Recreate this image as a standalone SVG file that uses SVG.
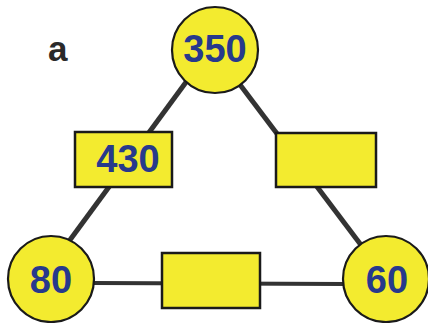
<svg xmlns="http://www.w3.org/2000/svg" width="428" height="323" viewBox="0 0 428 323">
<style>
.c{fill:#f3eb2f;stroke:#1a1a1a;stroke-width:2.2}
.r{fill:#f3eb2f;stroke:#1a1a1a;stroke-width:2.5}
.t{font-family:"Liberation Sans",Arial,sans-serif;font-size:38px;font-weight:bold;fill:#27398c;text-anchor:middle}
.e{stroke:#333;stroke-width:5;stroke-linecap:butt;fill:none}
</style>
<rect width="428" height="323" fill="#fff"/>
<text x="48" y="61" font-family="Liberation Sans,Arial,sans-serif" font-size="35" font-weight="bold" fill="#2a2a2a">a</text>
<g id="connectors">
<line class="e" x1="192" y1="74" x2="67" y2="244"/>
<line class="e" x1="238" y1="82" x2="361" y2="245"/>
<line class="e" x1="94" y1="283" x2="346" y2="284" style="stroke-width:4"/>
</g>
<g id="n350"><circle class="c" cx="215" cy="50" r="43"/><text class="t" x="215" y="62">350</text></g>
<g id="n430"><rect class="r" x="75" y="132" width="97" height="55"/><text class="t" x="128" y="172">430</text></g>
<g id="nR"><rect class="r" x="276" y="133" width="100" height="54"/></g>
<g id="n80"><circle class="c" cx="51" cy="279" r="43"/><text class="t" x="51" y="293">80</text></g>
<g id="nB"><rect class="r" x="162" y="253" width="98" height="55"/></g>
<g id="n60"><circle class="c" cx="386" cy="279" r="43"/><text class="t" x="387" y="293">60</text></g>
</svg>
